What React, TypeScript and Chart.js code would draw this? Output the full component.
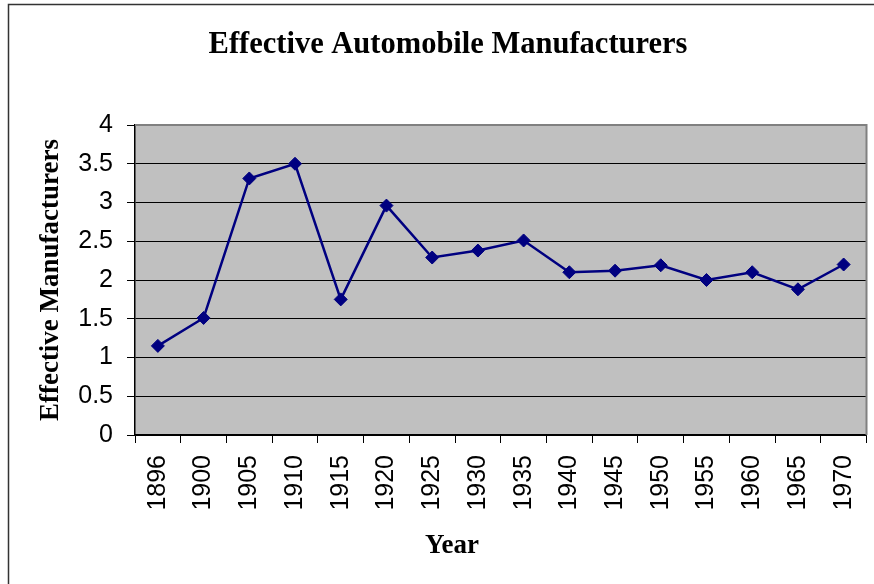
import React, { useEffect, useRef } from "react";
import { Chart, registerables } from "chart.js";

Chart.register(...registerables);

// Years sampled and the effective number of manufacturers in each
const years: string[] = [
  "1896", "1900", "1905", "1910", "1915", "1920", "1925", "1930",
  "1935", "1940", "1945", "1950", "1955", "1960", "1965", "1970",
];
const effectiveManufacturers: number[] = [
  1.15, 1.51, 3.31, 3.5, 1.75, 2.96, 2.29, 2.38,
  2.51, 2.1, 2.12, 2.19, 2.0, 2.1, 1.88, 2.2,
];
const yTicks: number[] = [0, 0.5, 1, 1.5, 2, 2.5, 3, 3.5, 4];

const chartTitle = "Effective Automobile Manufacturers";
const xTitle = "Year";
const yTitle = "Effective Manufacturers";

const W = 874;
const H = 584;
const SERIF = "'Liberation Serif', 'Times New Roman', serif";
const SANS = "'Liberation Sans', Arial, sans-serif";

// Page background, outer frame, grey plot panel and the centred headings
const framePlugin = {
  id: "frame",
  beforeDraw(chart: any) {
    const { ctx } = chart;
    ctx.save();
    ctx.fillStyle = "#ffffff";
    ctx.fillRect(0, 0, chart.width, chart.height);
    ctx.strokeStyle = "#333333";
    ctx.lineWidth = 1.5;
    ctx.beginPath();
    ctx.moveTo(8.5, chart.height);
    ctx.lineTo(8.5, 4.5);
    ctx.lineTo(chart.width, 4.5);
    ctx.stroke();
    const a = chart.chartArea;
    ctx.fillStyle = "#c0c0c0";
    ctx.fillRect(a.left, a.top, a.right - a.left, a.bottom - a.top);
    ctx.restore();
  },
  beforeDatasetsDraw(chart: any) {
    const { ctx } = chart;
    const a = chart.chartArea;
    ctx.save();
    ctx.strokeStyle = "#808080";
    ctx.lineWidth = 2;
    ctx.beginPath();
    ctx.moveTo(a.left, a.top);
    ctx.lineTo(a.right, a.top);
    ctx.lineTo(a.right, a.bottom);
    ctx.stroke();
    ctx.restore();
  },
  afterDraw(chart: any) {
    const { ctx } = chart;
    ctx.save();
    ctx.fillStyle = "#000000";
    ctx.textAlign = "center";
    ctx.textBaseline = "middle";
    ctx.font = `bold 30.5px ${SERIF}`;
    ctx.fillText(chartTitle, 448, 45);
    ctx.font = `bold 27px ${SERIF}`;
    ctx.fillText(xTitle, 452, 546);
    ctx.restore();
  },
};

export default function App() {
  const canvasRef = useRef<HTMLCanvasElement | null>(null);

  useEffect(() => {
    const canvas = canvasRef.current;
    if (!canvas) return;
    const chart = new Chart(canvas, {
      type: "line",
      data: {
        labels: years,
        datasets: [
          {
            label: yTitle,
            data: effectiveManufacturers,
            borderColor: "#000080",
            backgroundColor: "#000080",
            borderWidth: 2.5,
            pointStyle: "rectRot",
            pointRadius: 6.5,
            pointBorderWidth: 1,
            pointBackgroundColor: "#000080",
            pointBorderColor: "#000080",
            tension: 0,
          },
        ],
      },
      options: {
        responsive: false,
        animation: false,
        layout: { padding: { left: 0, right: 7, top: 125, bottom: 0 } },
        plugins: {
          legend: { display: false },
          tooltip: { enabled: false },
          title: { display: false },
        },
        scales: {
          x: {
            type: "category",
            offset: true,
            afterFit(scale: any) {
              scale.height = H - 435;
              scale.paddingLeft = 0;
              scale.paddingRight = 0;
            },
            grid: {
              display: true,
              offset: true,
              drawOnChartArea: false,
              drawTicks: true,
              tickLength: 8,
              color: "#000000",
              lineWidth: 1,
            },
            border: { display: true, color: "#000000", width: 1.5 },
            ticks: {
              color: "#000000",
              font: { family: SANS, size: 25 },
              minRotation: 90,
              maxRotation: 90,
              padding: 12,
              autoSkip: false,
            },
            title: { display: false },
          },
          y: {
            min: 0,
            max: 4,
            afterFit(scale: any) {
              scale.width = 135;
              scale.paddingTop = 0;
              scale.paddingBottom = 0;
            },
            afterBuildTicks(scale: any) {
              scale.ticks = yTicks.map((v) => ({ value: v }));
            },
            grid: {
              color: "#000000",
              lineWidth: 1,
              drawTicks: true,
              tickLength: 8,
            },
            border: { display: true, color: "#000000", width: 1.5 },
            ticks: {
              color: "#000000",
              font: { family: SANS, size: 25 },
              padding: 14,
              callback: (v: any) => String(v),
            },
            title: {
              display: true,
              text: yTitle,
              color: "#000000",
              font: { family: SERIF, size: 27, weight: "bold" },
              padding: { top: 35, bottom: 0 },
            },
          },
        },
      },
      plugins: [framePlugin],
    });
    return () => chart.destroy();
  }, []);

  return (
    <div style={{ position: "absolute", left: 0, top: 0, width: W, height: H }}>
      <canvas ref={canvasRef} width={W} height={H} />
    </div>
  );
}
